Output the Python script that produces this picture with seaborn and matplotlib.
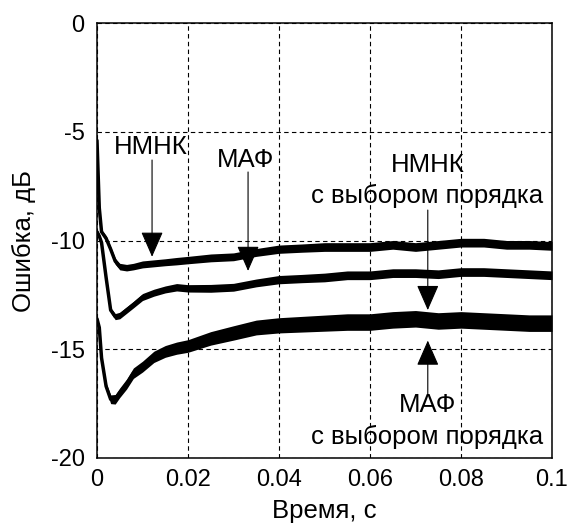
import numpy as np
import pandas as pd
import matplotlib
matplotlib.use("Agg")
import matplotlib.pyplot as plt
import seaborn as sns

# values (time in s, error in dB)
time_s = [0, 0.0005, 0.001, 0.002, 0.003, 0.004, 0.005, 0.0065, 0.008, 0.01,
          0.0125, 0.015, 0.0175, 0.02, 0.025, 0.03, 0.035, 0.04, 0.045, 0.05,
          0.055, 0.06, 0.065, 0.07, 0.075, 0.08, 0.085, 0.09, 0.095, 0.1]

err_top = [-5.4, -8.5, -9.6, -9.9, -10.4, -10.95, -11.2, -11.25, -11.2, -11.1,
           -11.05, -11.0, -10.95, -10.9, -10.8, -10.75, -10.55, -10.4, -10.35, -10.3,
           -10.3, -10.3, -10.2, -10.3, -10.2, -10.1, -10.1, -10.2, -10.2, -10.25]

err_mid = [-9.6, -9.8, -10.1, -11.7, -13.2, -13.5, -13.45, -13.2, -12.95, -12.6,
           -12.4, -12.25, -12.15, -12.2, -12.2, -12.15, -11.95, -11.8, -11.75, -11.7,
           -11.6, -11.6, -11.5, -11.5, -11.55, -11.45, -11.45, -11.5, -11.55, -11.6]

err_low = [-13.6, -14.0, -15.4, -16.7, -17.3, -17.3, -17.0, -16.6, -16.1, -15.8,
           -15.35, -15.1, -14.95, -14.85, -14.5, -14.25, -14.0, -13.9, -13.85, -13.8,
           -13.75, -13.75, -13.65, -13.6, -13.7, -13.65, -13.7, -13.75, -13.8, -13.8]

# half width of the noisy band around each curve, dB
spread_top = [0.1, 0.1, 0.1, 0.12, 0.12, 0.14, 0.15, 0.15, 0.15, 0.16,
              0.16, 0.16, 0.17, 0.17, 0.18, 0.18, 0.18, 0.19, 0.19, 0.2,
              0.2, 0.2, 0.2, 0.2, 0.2, 0.2, 0.2, 0.2, 0.2, 0.2]
spread_mid = [0.1, 0.1, 0.1, 0.12, 0.12, 0.14, 0.15, 0.15, 0.15, 0.16,
              0.16, 0.16, 0.17, 0.17, 0.18, 0.18, 0.18, 0.19, 0.19, 0.2,
              0.2, 0.2, 0.2, 0.2, 0.2, 0.2, 0.2, 0.2, 0.2, 0.2]
spread_low = [0.1, 0.1, 0.12, 0.15, 0.2, 0.22, 0.22, 0.23, 0.24, 0.25,
              0.26, 0.27, 0.28, 0.29, 0.31, 0.33, 0.34, 0.35, 0.36, 0.37,
              0.38, 0.38, 0.38, 0.38, 0.38, 0.38, 0.38, 0.38, 0.38, 0.38]

x_ticks = [0, 0.02, 0.04, 0.06, 0.08, 0.1]
x_tick_labels = ["0", "0.02", "0.04", "0.06", "0.08", "0.1"]
y_ticks = [-20, -15, -10, -5, 0]
y_tick_labels = ["-20", "-15", "-10", "-5", "0"]

sns.set_style("white")
plt.rcParams["font.family"] = ["Liberation Sans", "DejaVu Sans"]

df = pd.DataFrame({"t": time_s, "top": err_top, "mid": err_mid, "low": err_low})
long_df = df.melt(id_vars="t", var_name="curve", value_name="err")

fig = plt.figure(figsize=(5.68, 5.28), dpi=100)
ax = fig.add_axes([97 / 568, 1 - 458 / 528, 455 / 568, 435 / 528])

sns.lineplot(data=long_df, x="t", y="err", hue="curve", units="curve", estimator=None,
             palette={"top": "black", "mid": "black", "low": "black"},
             linewidth=2.5, legend=False, ax=ax, zorder=3)
for vals, spread in [(err_top, spread_top), (err_mid, spread_mid), (err_low, spread_low)]:
    v = np.array(vals)
    s = np.array(spread)
    ax.fill_between(time_s, v - s, v + s, color="black", linewidth=0, zorder=3)

ax.set_xlim(0, 0.1)
ax.set_ylim(-20, 0)
ax.set_xticks(x_ticks)
ax.set_xticklabels(x_tick_labels)
ax.set_yticks(y_ticks)
ax.set_yticklabels(y_tick_labels)
ax.tick_params(direction="in", length=4, width=0.8, labelsize=17, colors="black")
ax.tick_params(axis="x", pad=8)
ax.tick_params(axis="y", pad=9)
ax.grid(True, color="black", linestyle=(0, (4, 3)), linewidth=0.8)
ax.set_axisbelow(True)
for sp in ax.spines.values():
    sp.set_color("black")
    sp.set_linewidth(1.1)

ax.set_xlabel("Время, с", fontsize=18.5, color="black")
ax.set_ylabel("Ошибка, дБ", fontsize=18.5, color="black")
ax.xaxis.set_label_coords(0.5, -0.095)
ax.yaxis.set_label_coords(-0.135, 0.5)

arrow = dict(arrowstyle="-|>,head_length=0.8,head_width=0.35", color="black",
             lw=0.8, mutation_scale=20, shrinkA=0, shrinkB=0)
txt = dict(fontsize=18.5, ha="center", va="baseline", color="black")

ax.text(0.0119, -6.02, "НМНК", **txt)
ax.annotate("", xy=(0.0121, -10.75), xytext=(0.0121, -6.3), arrowprops=arrow)

ax.text(0.0327, -6.62, "МАФ", **txt)
ax.annotate("", xy=(0.0332, -11.4), xytext=(0.0332, -6.85), arrowprops=arrow)

ax.text(0.0726, -6.85, "НМНК", **txt)
ax.text(0.0725, -8.28, "с выбором порядка", **txt)
ax.annotate("", xy=(0.0727, -13.2), xytext=(0.0727, -8.6), arrowprops=arrow)

ax.text(0.0726, -17.89, "МАФ", **txt)
ax.text(0.0725, -19.35, "с выбором порядка", **txt)
ax.annotate("", xy=(0.0727, -14.6), xytext=(0.0727, -17.1), arrowprops=arrow)

fig.savefig("out.png", dpi=100, facecolor="white")
